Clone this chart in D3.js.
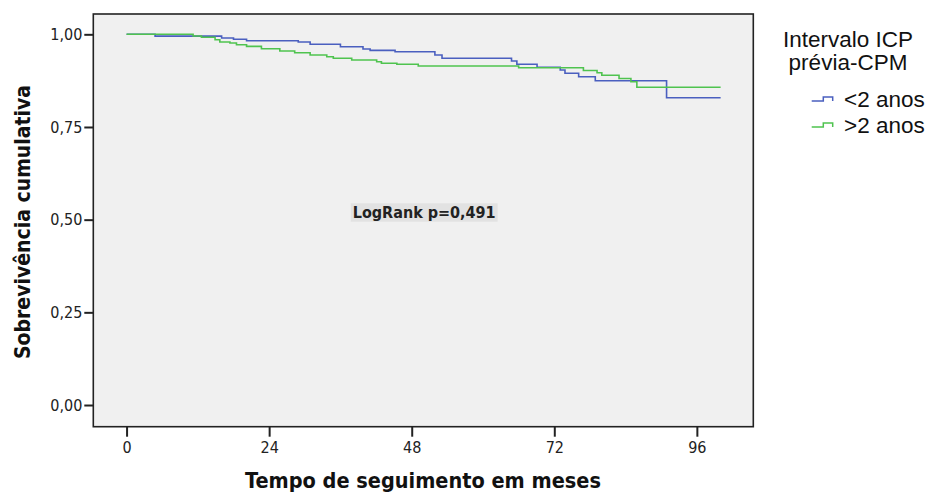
<!DOCTYPE html>
<html>
<head>
<meta charset="utf-8">
<script src="https://cdn.jsdelivr.net/npm/d3@7"></script>
<style>
  body { margin: 0; background: #fff; }
  svg { display: block; }
</style>
</head>
<body>
<div id="chart"></div>
<script>
// Kaplan-Meier steps (months, cumulative survival)
var blueTimes = [0, 4.8, 16.0, 18.0, 20.2, 28.9, 30.9, 36.0, 39.8, 41.0, 45.2, 51.9, 53.1, 64.8, 65.7, 69.1, 73.0, 73.8, 76.1, 78.9, 90.9, 100.0];
var blueSurv  = [1, 0.995, 0.990, 0.9865, 0.9827, 0.9792, 0.973, 0.9666, 0.9603, 0.9568, 0.9531, 0.9442, 0.9353, 0.928, 0.9191, 0.911, 0.9037, 0.8948, 0.8856, 0.8748, 0.829, 0.829];

var greenTimes = [0, 11.2, 12.6, 14.9, 15.7, 17.4, 18.5, 20.2, 22.7, 25.8, 28.3, 30.9, 33.7, 34.8, 37.9, 42.1, 42.9, 45.5, 49.1, 66.0, 76.9, 79.2, 80.0, 82.9, 84.9, 85.9, 100.0];
var greenSurv  = [1, 0.9954, 0.9919, 0.9854, 0.9792, 0.9765, 0.9719, 0.9676, 0.9612, 0.955, 0.9504, 0.9442, 0.9396, 0.9353, 0.9307, 0.9261, 0.9218, 0.9191, 0.9145, 0.9099, 0.9023, 0.8964, 0.8894, 0.8808, 0.8721, 0.857, 0.857];

var groupNames = ["<2 anos", ">2 anos"];
var groupColors = ["#4a5fbf", "#4fc34f"];
var xTicks = [0, 24, 48, 72, 96];
var yTicks = [0, 0.25, 0.5, 0.75, 1];
var legendTitle = ["Intervalo ICP", "prévia-CPM"];
var xTitle = "Tempo de seguimento em meses";
var yTitle = "Sobrevivência cumulativa";
var testText = "LogRank p=0,491";

var svgWidth = 934;
var svgHeight = 496;
var plot = { left: 93.3, right: 753.3, top: 14, bottom: 426.7 };

var svg = d3.select("#chart")
  .append("svg")
  .attr("width", svgWidth)
  .attr("height", svgHeight);

var x = d3.scaleLinear().domain([-5.6, 105.5]).range([plot.left, plot.right]);
var y = d3.scaleLinear().domain([-0.0585, 1.0548]).range([plot.bottom, plot.top]);

var tickFont = "'DejaVu Sans Condensed', 'DejaVu Sans', sans-serif";

// plot area
svg.append("rect")
  .attr("x", plot.left)
  .attr("y", plot.top)
  .attr("width", plot.right - plot.left)
  .attr("height", plot.bottom - plot.top)
  .attr("fill", "#f0f0f0")
  .attr("stroke", "#222")
  .attr("stroke-width", 1.6);

// axes
var leftAxis = d3.axisLeft(y)
  .tickValues(yTicks)
  .tickSize(9)
  .tickPadding(2)
  .tickFormat(function(d) { return d3.format(".2f")(d).replace(".", ","); });

var bottomAxis = d3.axisBottom(x)
  .tickValues(xTicks)
  .tickSize(10)
  .tickPadding(5);

var gy = svg.append("g")
  .attr("transform", "translate(" + plot.left + ",0)")
  .call(leftAxis);

var gx = svg.append("g")
  .attr("transform", "translate(0," + plot.bottom + ")")
  .call(bottomAxis);

[gx, gy].forEach(function(g) {
  g.select(".domain").remove();
  g.selectAll(".tick line").attr("stroke", "#222").attr("stroke-width", 2);
  g.selectAll(".tick text")
    .attr("fill", "#222")
    .style("font-family", tickFont)
    .style("font-size", "16px");
});

// curves
var line = d3.line()
  .curve(d3.curveStepAfter)
  .x(function(d) { return x(d[0]); })
  .y(function(d) { return y(d[1]); });

var series = [
  d3.zip(blueTimes, blueSurv),
  d3.zip(greenTimes, greenSurv)
];

svg.append("g")
  .selectAll("path")
  .data(series)
  .enter()
  .append("path")
  .attr("d", line)
  .attr("fill", "none")
  .attr("stroke", function(d, i) { return groupColors[i]; })
  .attr("stroke-width", 1.6);

// log-rank label
var note = svg.append("g");
var noteText = note.append("text")
  .attr("x", x(50.1))
  .attr("y", 217.5)
  .attr("text-anchor", "middle")
  .attr("fill", "#222")
  .style("font-family", tickFont)
  .style("font-weight", "bold")
  .style("font-size", "16px")
  .text(testText);
var bb = noteText.node().getBBox();
note.insert("rect", "text")
  .attr("x", bb.x - 2)
  .attr("y", 203.3)
  .attr("width", bb.width + 4)
  .attr("height", 18.4)
  .attr("fill", "#e2e2e2");

// axis titles
svg.append("text")
  .attr("x", 423)
  .attr("y", 488)
  .attr("text-anchor", "middle")
  .attr("fill", "#111")
  .style("font-family", tickFont)
  .style("font-weight", "bold")
  .style("font-size", "21.5px")
  .text(xTitle);

svg.append("text")
  .attr("transform", "translate(30,222) rotate(-90)")
  .attr("text-anchor", "middle")
  .attr("fill", "#111")
  .style("font-family", tickFont)
  .style("font-weight", "bold")
  .style("font-size", "21px")
  .text(yTitle);

// legend
var legend = svg.append("g")
  .style("font-family", "'Liberation Sans', Arial, sans-serif")
  .style("font-size", "22.5px")
  .attr("fill", "#111");

legend.selectAll("text.title")
  .data(legendTitle)
  .enter()
  .append("text")
  .attr("class", "title")
  .attr("x", 848)
  .attr("y", function(d, i) { return 47 + i * 23; })
  .attr("text-anchor", "middle")
  .text(function(d) { return d; });

var item = legend.selectAll("g.item")
  .data(groupNames)
  .enter()
  .append("g")
  .attr("class", "item")
  .attr("transform", function(d, i) { return "translate(0," + (101 + i * 26) + ")"; });

item.append("path")
  .attr("d", "M811.7,0H823.3V-4H832.7V0")
  .attr("fill", "none")
  .attr("stroke", function(d, i) { return groupColors[i]; })
  .attr("stroke-width", 1.5);

item.append("text")
  .attr("x", 844)
  .attr("y", 6)
  .text(function(d) { return d; });
</script>
</body>
</html>
